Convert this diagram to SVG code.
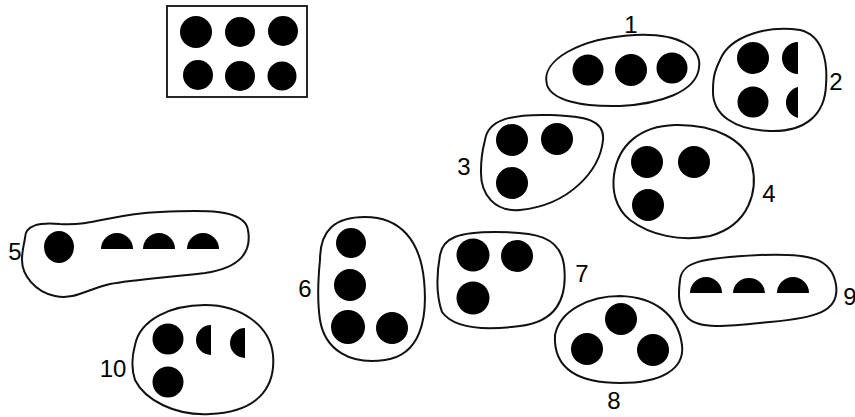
<svg xmlns="http://www.w3.org/2000/svg" width="855" height="417" viewBox="0 0 855 417">
<style>
.blob{fill:#fff;stroke:#111;stroke-width:2;stroke-linejoin:round}
.d{fill:#000}
.lbl{font-family:"Liberation Sans",Arial,sans-serif;font-size:24px;fill:#000;text-anchor:middle}
</style>
<rect width="855" height="417" fill="#fff"/>
<g id="group-rect">
<rect x="167" y="6" width="140" height="91" fill="#fff" stroke="#111" stroke-width="1.8"/>
<circle class="d" cx="196" cy="32" r="16"/><circle class="d" cx="240" cy="32" r="15"/><circle class="d" cx="283" cy="31" r="15"/>
<circle class="d" cx="198" cy="75" r="15"/><circle class="d" cx="240" cy="76" r="15"/><circle class="d" cx="282" cy="76" r="14.5"/>
</g>
<g id="node-1">
<path class="blob" d="M547,85 C540,60 580,38 635,35 C680,33 702,48 699,68 C696,92 660,104 620,106 C580,107 552,100 547,85 Z"/>
<circle class="d" cx="588" cy="70" r="15.5"/><circle class="d" cx="631" cy="70" r="16"/><circle class="d" cx="672" cy="68" r="15.5"/>
<text class="lbl" x="631" y="33">1</text>
</g>
<g id="node-2">
<path class="blob" d="M720,60 C730,35 770,25 800,30 C822,35 828,60 826,85 C825,115 805,132 770,131 C735,130 712,115 713,90 C713,75 716,68 720,60 Z"/>
<circle class="d" cx="753" cy="58" r="16"/><circle class="d" cx="753" cy="102" r="15.5"/>
<path class="d" d="M798,42 A16 16 0 0 0 798,74 Z"/><path class="d" d="M798,87 A16 16 0 0 0 798,118 Z"/>
<text class="lbl" x="836" y="90">2</text>
</g>
<g id="node-3">
<path class="blob" d="M485,140 C488,120 510,114 550,115 C585,116 605,120 603,140 C600,170 570,205 520,210 C495,212 480,195 481,170 C481,155 483,148 485,140 Z"/>
<circle class="d" cx="512" cy="140" r="16"/><circle class="d" cx="557" cy="139" r="16"/><circle class="d" cx="512" cy="183" r="16"/>
<text class="lbl" x="464" y="175">3</text>
</g>
<g id="node-4">
<path class="blob" d="M614,175 C618,145 640,126 675,125 C715,124 745,140 752,165 C758,190 750,225 710,236 C680,242 650,235 630,220 C615,208 612,190 614,175 Z"/>
<circle class="d" cx="647" cy="162" r="16"/><circle class="d" cx="694" cy="162" r="16"/><circle class="d" cx="648" cy="205" r="16"/>
<text class="lbl" x="769" y="202">4</text>
</g>
<g id="node-5">
<path class="blob" d="M25,238 C25,225 40,222 60,224 C95,226 110,214 160,212 C200,210 245,208 248,230 C252,252 240,268 205,273 C160,278 130,280 110,284 C85,290 75,300 55,296 C35,292 22,275 22,260 C22,250 24,245 25,238 Z"/>
<ellipse class="d" cx="59" cy="247" rx="15" ry="16"/>
<path class="d" d="M101,249 A16 16 0 0 1 133,249 Z"/><path class="d" d="M143,249 A16 16 0 0 1 175,249 Z"/><path class="d" d="M187,249 A16 16 0 0 1 219,249 Z"/>
<text class="lbl" x="15" y="260">5</text>
</g>
<g id="node-6">
<path class="blob" d="M320,260 C320,230 335,217 365,217 C400,217 420,240 424,280 C428,320 420,355 385,360 C350,365 325,350 320,320 C317,300 318,280 320,260 Z"/>
<circle class="d" cx="351" cy="243" r="15"/><circle class="d" cx="350" cy="285" r="16"/><circle class="d" cx="348" cy="327" r="17"/><circle class="d" cx="392" cy="328" r="16"/>
<text class="lbl" x="305" y="297">6</text>
</g>
<g id="node-7">
<path class="blob" d="M440,255 C443,237 460,232 495,232 C535,232 560,236 564,265 C568,300 555,322 520,326 C490,330 455,330 442,312 C436,295 437,272 440,255 Z"/>
<circle class="d" cx="473" cy="255" r="16.5"/><circle class="d" cx="517" cy="256" r="16"/><circle class="d" cx="473" cy="298" r="16.5"/>
<text class="lbl" x="582" y="282">7</text>
</g>
<g id="node-8">
<path class="blob" d="M555,335 C560,310 590,296 620,296 C655,297 678,315 682,345 C685,370 660,383 620,383 C580,383 553,370 555,335 Z"/>
<circle class="d" cx="621" cy="319" r="16"/><circle class="d" cx="587" cy="349" r="16"/><circle class="d" cx="653" cy="350" r="16"/>
<text class="lbl" x="614" y="409">8</text>
</g>
<g id="node-9">
<path class="blob" d="M680,280 C682,262 700,258 760,255 C810,253 832,258 836,285 C840,312 815,318 770,322 C730,326 700,330 688,318 C678,308 678,295 680,280 Z"/>
<path class="d" d="M690,293 A16 16 0 0 1 722,293 Z"/><path class="d" d="M733,293 A16 15 0 0 1 765,293 Z"/><path class="d" d="M777,293 A16 16 0 0 1 809,293 Z"/>
<text class="lbl" x="850" y="305">9</text>
</g>
<g id="node-10">
<path class="blob" d="M135,345 C140,320 170,305 205,305 C240,305 270,325 273,355 C276,390 255,412 210,414 C175,416 145,400 135,380 C131,368 132,356 135,345 Z"/>
<circle class="d" cx="168" cy="339" r="15.5"/><circle class="d" cx="168" cy="382" r="15.5"/>
<path class="d" d="M211,325 A15 15 0 0 0 211,355 Z"/><path class="d" d="M245,328 A15 15 0 0 0 245,358 Z"/>
<text class="lbl" x="113" y="377">10</text>
</g>
<g id="connectors"></g>
</svg>
